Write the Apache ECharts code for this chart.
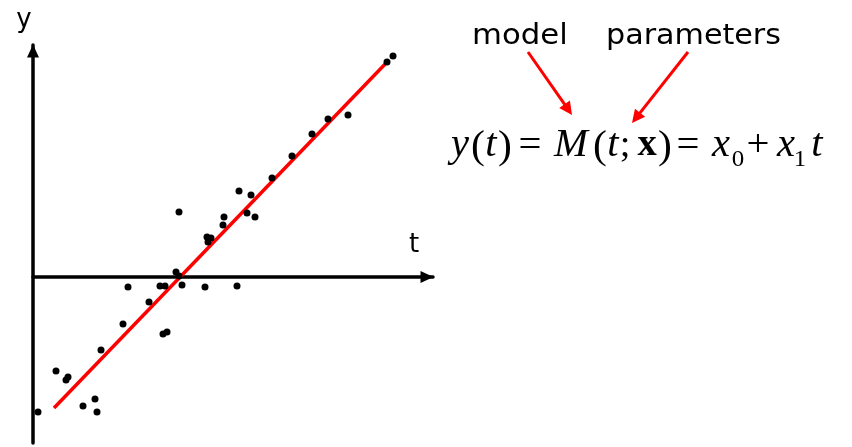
<!DOCTYPE html>
<html>
<head>
<meta charset="utf-8">
<script src="https://cdn.jsdelivr.net/npm/echarts@6/dist/echarts.min.js"></script>
<style>
  html, body { margin: 0; padding: 0; background: #ffffff; }
  #chart { width: 852px; height: 447px; }
</style>
</head>
<body>
<div id="chart"></div>
<script>
// Observations (t, y)
const tValues = [0.125, 0.575, 0.825, 0.875, 1.7, 1.25, 1.55, 1.6, 2.375, 3.175, 3.3, 3.725,
                 2.9, 2.25, 3.25, 3.35, 3.575, 3.65, 3.65, 5.15, 5.45, 4.775, 4.75, 5.35,
                 5.55, 4.35, 4.45, 4.375, 4.3, 5.1, 5.975, 6.475, 6.975, 7.375, 7.875, 8.85, 9.0];
const yValues = [-3.375, -2.35, -2.575, -2.5, -1.825, -3.225, -3.05, -3.375, -0.25, -0.225, -0.225, -0.2,
                 -0.625, -1.175, -1.425, -1.375, 0.125, 0.025, 1.625, 2.15, 2.05, 1.5, 1.3, 1.6,
                 1.5, 1.0, 0.975, 0.875, -0.25, -0.225, 2.475, 3.025, 3.575, 3.95, 4.05, 5.375, 5.525];

// Fitted straight line, end points
const fitT = [0.525, 8.9];
const fitY = [-3.275, 5.425];

// Axis names and annotation words
const axisNames = ['t', 'y'];
const annotations = ['model', 'parameters'];

// Formula pieces: [text, style]
const formulaPieces = [
  ['y', 'it'], ['(', 'pr'], ['t', 'it'], [')', 'pr'], ['=', 'op'], ['M', 'it'],
  ['(', 'pr'], ['t', 'it'], [';', 'rm'], ['x', 'bf'], [')', 'pr'], ['=', 'op'],
  ['x', 'it'], ['0', 'sub'], ['+', 'op'], ['x', 'it'], ['1', 'sub'], ['t', 'it']
];

const chart = echarts.init(document.getElementById('chart'), null, { renderer: 'canvas' });

const scatterData = tValues.map((t, i) => [t, yValues[i]]);
const fitData = fitT.map((t, i) => [t, fitY[i]]);

// Horizontal centre of each formula glyph
const formulaCX = [460, 478, 491, 505, 530, 571, 600, 613, 625, 647, 665, 688, 721, 738, 758, 786, 800, 817];
const formulaBaseline = 157;
const serif = '"Liberation Serif", "Times New Roman", serif';

function pieceStyle(kind) {
  const base = { fontFamily: serif, fill: '#000' };
  if (kind === 'it') return Object.assign(base, { fontStyle: 'italic', fontSize: 39 });
  if (kind === 'bf') return Object.assign(base, { fontWeight: 'bold', fontSize: 37 });
  if (kind === 'sub') return Object.assign(base, { fontSize: 24 });
  if (kind === 'pr') return Object.assign(base, { fontSize: 40 });
  return Object.assign(base, { fontSize: 37 });
}

const graphics = [];
formulaPieces.forEach((p, i) => {
  const st = pieceStyle(p[1]);
  const size = st.fontSize;
  const baseline = p[1] === 'sub' ? formulaBaseline + 10 : (p[1] === 'pr' ? formulaBaseline + 2 : formulaBaseline);
  graphics.push({
    type: 'text',
    x: formulaCX[i], y: baseline - 0.3 * size, scaleX: p[1] === 'op' ? 1.1 : 1.04,
    style: Object.assign(st, { text: p[0], textAlign: 'center', textVerticalAlign: 'middle' })
  });
});

// Annotation words
const sansFont = '"DejaVu Sans", Verdana, sans-serif';
graphics.push({ type: 'text', x: 472, y: 45 - 0.3 * 29, scaleX: 1.06,
  style: { text: annotations[0], fontFamily: sansFont, fontSize: 29, fill: '#000', textAlign: 'left', textVerticalAlign: 'middle' } });
graphics.push({ type: 'text', x: 606, y: 45 - 0.3 * 29, scaleX: 1.04,
  style: { text: annotations[1], fontFamily: sansFont, fontSize: 29, fill: '#000', textAlign: 'left', textVerticalAlign: 'middle' } });

// Axis names
graphics.push({ type: 'text', x: 24, y: 28 - 0.3 * 26,
  style: { text: axisNames[1], fontFamily: sansFont, fontSize: 26, fill: '#000', textAlign: 'center', textVerticalAlign: 'middle' } });
graphics.push({ type: 'text', x: 414, y: 253 - 0.3 * 26,
  style: { text: axisNames[0], fontFamily: sansFont, fontSize: 26, fill: '#000', textAlign: 'center', textVerticalAlign: 'middle' } });

// Red pointer arrows from words to formula
function arrow(x1, y1, x2, y2) {
  const len = 13, half = 6.5;
  const dx = x2 - x1, dy = y2 - y1, d = Math.hypot(dx, dy);
  const ux = dx / d, uy = dy / d;
  const bx = x2 - ux * len, by = y2 - uy * len;
  graphics.push({ type: 'line', shape: { x1: x1, y1: y1, x2: bx + ux * 2, y2: by + uy * 2 },
    style: { stroke: '#ff0000', lineWidth: 3 } });
  graphics.push({ type: 'polygon', shape: { points: [[x2, y2], [bx - uy * half, by + ux * half], [bx + uy * half, by - ux * half]] },
    style: { fill: '#ff0000' } });
}
arrow(528, 52, 572, 115);
arrow(688, 52, 632, 123);

const axisCommon = {
  type: 'value',
  axisTick: { show: false },
  axisLabel: { show: false },
  splitLine: { show: false }
};

const axisLineStyle = { show: true, onZero: true, symbol: ['none', 'triangle'], symbolSize: [12, 13], symbolOffset: [0, -6],
  lineStyle: { color: '#000', width: 3.5 } };

chart.setOption({
  animation: false,
  backgroundColor: '#ffffff',
  grid: { left: 33, top: 45, width: 400, height: 398 },
  xAxis: Object.assign({}, axisCommon, { min: 0, max: 10, axisLine: axisLineStyle }),
  yAxis: Object.assign({}, axisCommon, { min: -4.15, max: 5.8, axisLine: axisLineStyle }),
  series: [
    {
      type: 'line', data: fitData, symbol: 'none', z: 2,
      lineStyle: { color: '#ff0000', width: 3.5 }
    },
    {
      type: 'scatter', data: scatterData, symbol: 'circle', symbolSize: 7, z: 3,
      itemStyle: { color: '#000', opacity: 1 }
    }
  ],
  graphic: graphics
});
</script>
</body>
</html>
